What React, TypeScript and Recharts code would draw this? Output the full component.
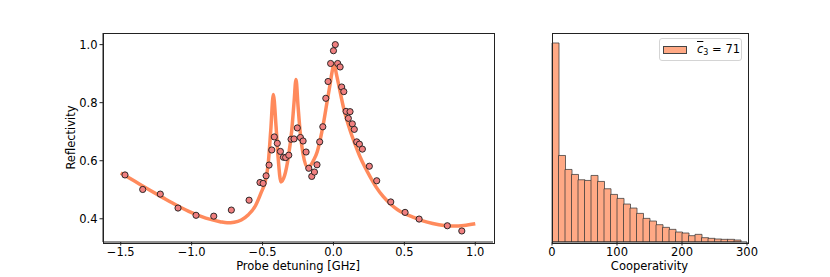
import React from "react";
import { Bar, ComposedChart, Line, Scatter, XAxis, YAxis } from "recharts";

const FONT = "'DejaVu Sans', sans-serif";
const FS = 11.5;

// fitted model
const fitDetuning = [
  -1.5, -1.4, -1.3, -1.2, -1.1, -1.0, -0.9, -0.8, -0.75, -0.7, -0.65, -0.6,
  -0.55, -0.51, -0.48, -0.46, -0.442, -0.424, -0.405, -0.39, -0.37, -0.345,
  -0.32, -0.295, -0.278, -0.264, -0.25, -0.235, -0.215, -0.185, -0.16, -0.14,
  -0.115, -0.094, -0.07, -0.047, -0.025, -0.01, 0.004, 0.02, 0.035, 0.07,
  0.117, 0.15, 0.188, 0.22, 0.258, 0.3, 0.35, 0.4, 0.45, 0.5, 0.56, 0.63, 0.7,
  0.78, 0.85, 0.92, 1.0,
];
const fitReflectivity = [
  0.558, 0.529, 0.5, 0.472, 0.445, 0.421, 0.402, 0.39, 0.386, 0.388, 0.396,
  0.414, 0.445, 0.49, 0.53, 0.59, 0.705, 0.828, 0.72, 0.61, 0.527, 0.548,
  0.607, 0.7, 0.8, 0.88, 0.79, 0.7, 0.625, 0.578, 0.585, 0.602, 0.63, 0.671,
  0.73, 0.797, 0.86, 0.905, 0.935, 0.9, 0.866, 0.785, 0.705, 0.66, 0.613,
  0.58, 0.545, 0.51, 0.477, 0.452, 0.432, 0.418, 0.406, 0.393, 0.384, 0.377,
  0.375, 0.377, 0.383,
];

// measured points
const measDetuning = [
  -1.47, -1.345, -1.221, -1.096, -0.969, -0.844, -0.72, -0.595, -0.518,
  -0.496, -0.475, -0.454, -0.435, -0.417, -0.396, -0.374, -0.353, -0.337,
  -0.315, -0.299, -0.278, -0.255, -0.233, -0.214, -0.193, -0.174, -0.153,
  -0.134, -0.116, -0.097, -0.075, -0.054, -0.038, -0.02, 0.0, 0.013, 0.03,
  0.047, 0.058, 0.073, 0.089, 0.105, 0.117, 0.133, 0.147, 0.164, 0.183, 0.204,
  0.253, 0.305, 0.404, 0.505, 0.604, 0.803, 0.905,
];
const measReflectivity = [
  0.551, 0.501, 0.485, 0.437, 0.412, 0.409, 0.43, 0.464, 0.525, 0.522, 0.548,
  0.585, 0.637, 0.682, 0.66, 0.632, 0.612, 0.611, 0.619, 0.674, 0.675, 0.713,
  0.68, 0.668, 0.63, 0.574, 0.546, 0.561, 0.586, 0.665, 0.717, 0.815, 0.873,
  0.935, 0.979, 1.0, 0.935, 0.923, 0.854, 0.838, 0.77, 0.746, 0.769, 0.727,
  0.708, 0.665, 0.657, 0.64, 0.581, 0.531, 0.458, 0.422, 0.399, 0.376, 0.358,
];

const detuningTicks = [-1.5, -1.0, -0.5, 0, 0.5, 1.0];
const reflectivityTicks = [0.4, 0.6, 0.8, 1.0];

// cooperativity histogram, 10-wide bins
const binLow = [
  0, 10, 20, 30, 40, 50, 60, 70, 80, 90, 100, 110, 120, 130, 140, 150, 160,
  170, 180, 190, 200, 210, 220, 230, 240, 250, 260, 270, 280, 290,
];
const binCounts = [
  598, 260, 218, 203, 187, 185, 200, 182, 160, 143, 131, 114, 102, 86, 71, 63,
  52, 44, 38, 30, 27, 19, 23, 13, 11, 9, 8, 8, 6, 0,
];
const cooperativityTicks = [0, 100, 200, 300];
const meanC3 = 71;

const fitData = fitDetuning.map((x, i) => ({ x, y: fitReflectivity[i] }));
const measData = measDetuning.map((x, i) => ({ x, y: measReflectivity[i] }));
const histData = binLow.map((lo, i) => ({
  bin: String(lo),
  mid: lo + 5,
  count: binCounts[i],
}));

const fmt = (v: number) => (v < 0 ? "\u2212" : "") + Math.abs(v).toFixed(1);

const textStyle = { fontSize: FS, fill: "#000", fontFamily: FONT };
const spine = { stroke: "#222", strokeWidth: 1 };
const tickLine = { stroke: "#222", strokeWidth: 1 };

const Dot = (props: any) => (
  <circle
    cx={props.cx}
    cy={props.cy}
    r={3.1}
    fill="#f08080"
    stroke="#1a1a1a"
    strokeWidth={0.9}
  />
);

// matplotlib-style box around a plot area
const Frame = ({ left, width }: { left: number; width: number }) => (
  <div
    style={{
      position: "absolute",
      left: left - 0.5,
      top: 32.5,
      width: width,
      height: 209,
      border: "1px solid #222",
      pointerEvents: "none",
    }}
  />
);

export default function App() {
  return (
    <div
      style={{
        position: "absolute",
        left: 0,
        top: 0,
        width: 830,
        height: 277,
        background: "#fff",
        fontFamily: FONT,
      }}
    >
      {/* Reflectivity vs detuning */}
      <div style={{ position: "absolute", left: 0, top: 0 }}>
        <ComposedChart
          width={500}
          height={277}
          margin={{ top: 33, right: 7, bottom: 0, left: 0 }}
        >
          <XAxis
            dataKey="x"
            type="number"
            domain={[-1.625, 1.125]}
            allowDataOverflow
            ticks={detuningTicks}
            tickFormatter={fmt}
            height={35}
            tickSize={3.5}
            tickMargin={2}
            axisLine={spine}
            tickLine={tickLine}
            tick={textStyle}
            label={{
              value: "Probe detuning [GHz]",
              position: "insideBottom",
              offset: 7,
              style: textStyle,
            }}
          />
          <YAxis
            dataKey="y"
            type="number"
            domain={[0.32, 1.04]}
            allowDataOverflow
            ticks={reflectivityTicks}
            tickFormatter={fmt}
            width={103}
            tickSize={3.5}
            tickMargin={2}
            axisLine={spine}
            tickLine={tickLine}
            tick={textStyle}
            label={{
              value: "Reflectivity",
              angle: -90,
              position: "insideLeft",
              offset: 71,
              style: { ...textStyle, textAnchor: "middle" },
            }}
          />
          <Line
            data={fitData}
            dataKey="y"
            type="monotone"
            stroke="#ff8a5c"
            strokeWidth={3.5}
            dot={false}
            activeDot={false}
            isAnimationActive={false}
          />
          <Scatter
            data={measData}
            dataKey="y"
            shape={Dot}
            isAnimationActive={false}
          />
        </ComposedChart>
      </div>
      <Frame left={103} width={390} />

      {/* Cooperativity histogram */}
      <div style={{ position: "absolute", left: 540, top: 0 }}>
        <ComposedChart
          width={235}
          height={277}
          data={histData}
          margin={{ top: 33, right: 28, bottom: 0, left: 12 }}
          barCategoryGap={0}
          barGap={0}
        >
          <XAxis
            xAxisId="num"
            dataKey="mid"
            type="number"
            domain={[0, 300]}
            allowDataOverflow
            ticks={cooperativityTicks}
            height={35}
            tickSize={3.5}
            tickMargin={2}
            axisLine={spine}
            tickLine={tickLine}
            tick={textStyle}
            label={{
              value: "Cooperativity",
              position: "insideBottom",
              offset: 7,
              style: textStyle,
            }}
          />
          <XAxis
            xAxisId="cat"
            dataKey="bin"
            hide
            height={0}
            padding={{ left: 0, right: 0 }}
          />
          <YAxis
            type="number"
            domain={[0, 628]}
            allowDataOverflow
            width={0}
            tick={false}
            tickLine={false}
            axisLine={spine}
          />
          <Bar
            xAxisId="cat"
            dataKey="count"
            fill="#ffa985"
            stroke="#3a3a3a"
            strokeOpacity={0.75}
            strokeWidth={1}
            isAnimationActive={false}
          />
        </ComposedChart>
      </div>
      <Frame left={552} width={195} />

      {/* legend */}
      <div
        style={{
          position: "absolute",
          left: 659,
          top: 38,
          width: 81,
          height: 21,
          border: "1px solid #d4d4d4",
          borderRadius: 3,
          background: "rgba(255,255,255,0.85)",
        }}
      >
        <div
          style={{
            position: "absolute",
            left: 3,
            top: 7,
            width: 22,
            height: 6,
            background: "#ffa985",
            border: "1px solid #444",
          }}
        />
        <div
          style={{
            position: "absolute",
            left: 37,
            top: 2,
            fontSize: FS,
            lineHeight: "16px",
            color: "#000",
            whiteSpace: "nowrap",
          }}
        >
          <span style={{ fontStyle: "italic", textDecoration: "overline" }}>
            c
          </span>
          <sub style={{ fontSize: 8, verticalAlign: "-2px" }}>3</sub>
          {" = "}
          {meanC3}
        </div>
      </div>
    </div>
  );
}
